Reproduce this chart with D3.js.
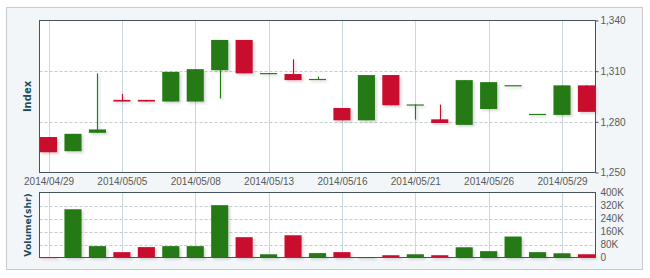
<!DOCTYPE html>
<html>
<head>
<meta charset="utf-8">
<script src="https://cdn.jsdelivr.net/npm/d3@7"></script>
<style>
  body { margin: 0; background: #fff; }
  svg { display: block; font-family: "DejaVu Sans", Verdana, sans-serif; }
  .tick text { fill: #5a5a5a; font-size: 10px; }
</style>
</head>
<body>
<svg id="chart" width="650" height="278"></svg>
<script>
// trading days shown on the chart
const dates = [
  '2014/04/29', '2014/04/30', '2014/05/02', '2014/05/05', '2014/05/06', '2014/05/07',
  '2014/05/08', '2014/05/09', '2014/05/12', '2014/05/13', '2014/05/14', '2014/05/15',
  '2014/05/16', '2014/05/19', '2014/05/20', '2014/05/21', '2014/05/22', '2014/05/23',
  '2014/05/26', '2014/05/27', '2014/05/28', '2014/05/29', '2014/05/30',
];
const opens = [
  1271, 1262.6, 1273.5, 1293, 1293, 1292, 1292, 1310.6, 1328.5, 1308.7, 1308.3, 1305.2,
  1288.2, 1280.9, 1307.7, 1290.1, 1281.5, 1278.2, 1287.6, 1301.5, 1284.5, 1284.1, 1301.6,
];
const highs = [
  1271, 1272.9, 1308.7, 1296.5, 1293, 1309.6, 1311.2, 1328.5, 1328.5, 1308.9, 1317, 1306.8,
  1288.2, 1307.7, 1307.7, 1290.3, 1290.2, 1304.7, 1303.5, 1301.7, 1284.7, 1301.6, 1301.6,
];
const lows = [
  1262, 1262.6, 1273.5, 1292, 1292, 1292, 1292, 1293.8, 1308.7, 1308.7, 1304.7, 1305.2,
  1280.9, 1280.9, 1289.8, 1281.3, 1279.3, 1278.2, 1287.6, 1301.5, 1284.5, 1284.1, 1285.9,
];
const closes = [
  1262, 1272.9, 1275.5, 1292, 1292, 1309.6, 1311.2, 1328.5, 1308.7, 1308.9, 1304.7, 1305.4,
  1280.9, 1307.7, 1289.8, 1290.3, 1279.3, 1304.7, 1303.5, 1301.7, 1284.7, 1301.6, 1285.9,
];
// volume in thousands of shares
const volumes = [
  2, 297, 70, 33, 64, 70, 70, 322, 125, 20, 137, 27,
  33, 2, 14, 20, 14, 63, 39, 129, 33, 26, 20,
];
const priceTicks = [1250, 1280, 1310, 1340];
const volumeTicks = [0, 80, 160, 240, 320, 400];

const up = '#267a17';
const down = '#c8102e';

const svg = d3.select('#chart');

const bounds = {left: 39.5, right: 595.5};
const pricePlot = {top: 20.5, bottom: 172.5};
const volPlot = {top: 192.5, bottom: 257.5};

// outer panel
svg.append('rect')
  .attr('x', 6.5).attr('y', 7.5)
  .attr('width', 636).attr('height', 262)
  .attr('fill', '#f2f6f8')
  .attr('stroke', '#c5cdd1');

const defs = svg.append('defs');
const shadow = defs.append('filter').attr('id', 'shadow')
  .attr('x', '-20%').attr('y', '-20%').attr('width', '160%').attr('height', '160%');
shadow.append('feDropShadow')
  .attr('dx', 2).attr('dy', 2).attr('stdDeviation', 1.2)
  .attr('flood-color', '#000').attr('flood-opacity', 0.15);

const x = d3.scalePoint()
  .domain(dates)
  .range([bounds.left, bounds.right])
  .padding(0.37);
const bodyWidth = x.step() * 0.7;

const y = d3.scaleLinear().domain([1250, 1340]).range([pricePlot.bottom, pricePlot.top]);
const yv = d3.scaleLinear().domain([0, 400]).range([volPlot.bottom, volPlot.top]);

const labelDates = dates.filter((d, i) => i % 3 === 0);

function drawFrame(plot, hLines, scale) {
  svg.append('rect')
    .attr('x', bounds.left).attr('y', plot.top)
    .attr('width', bounds.right - bounds.left)
    .attr('height', plot.bottom - plot.top)
    .attr('fill', '#fff');
  // vertical grid at labelled dates
  svg.append('g').selectAll('line')
    .data(labelDates)
    .join('line')
    .attr('x1', d => Math.round(x(d)) + 0.5)
    .attr('x2', d => Math.round(x(d)) + 0.5)
    .attr('y1', plot.top).attr('y2', plot.bottom)
    .attr('stroke', '#c9d7de');
  // dashed horizontal grid
  svg.append('g').selectAll('line')
    .data(hLines)
    .join('line')
    .attr('x1', bounds.left).attr('x2', bounds.right)
    .attr('y1', d => Math.round(scale(d)) + 0.5)
    .attr('y2', d => Math.round(scale(d)) + 0.5)
    .attr('stroke', '#c4ccd0')
    .attr('stroke-dasharray', '3,2');
}

drawFrame(pricePlot, [1280, 1310], y);
drawFrame(volPlot, [80, 160, 240, 320], yv);

const idx = d3.range(dates.length);
const colorOf = i => closes[i] >= opens[i] ? up : down;

// candles
const candles = svg.append('g').attr('filter', 'url(#shadow)');
candles.selectAll('.wick')
  .data(idx)
  .join('line')
  .attr('class', 'wick')
  .attr('x1', i => Math.round(x(dates[i])) + 0.5)
  .attr('x2', i => Math.round(x(dates[i])) + 0.5)
  .attr('y1', i => y(highs[i]))
  .attr('y2', i => y(lows[i]))
  .attr('stroke', colorOf)
  .attr('stroke-width', 1.2);
candles.selectAll('.body')
  .data(idx)
  .join('rect')
  .attr('class', 'body')
  .attr('x', i => x(dates[i]) - bodyWidth / 2)
  .attr('y', i => y(Math.max(opens[i], closes[i])))
  .attr('width', bodyWidth)
  .attr('height', i => Math.max(1.2, Math.abs(y(opens[i]) - y(closes[i]))))
  .attr('fill', colorOf);

// volume bars
svg.append('g').attr('filter', 'url(#shadow)')
  .selectAll('rect')
  .data(idx)
  .join('rect')
  .attr('x', i => x(dates[i]) - bodyWidth / 2)
  .attr('y', i => yv(volumes[i]))
  .attr('width', bodyWidth)
  .attr('height', i => Math.max(1, yv(0) - yv(volumes[i])))
  .attr('fill', colorOf);

// plot borders
[pricePlot, volPlot].forEach((plot) => {
  svg.append('rect')
    .attr('x', bounds.left).attr('y', plot.top)
    .attr('width', bounds.right - bounds.left)
    .attr('height', plot.bottom - plot.top)
    .attr('fill', 'none')
    .attr('stroke', '#45545b');
});

// axes
const priceAxis = svg.append('g')
  .attr('transform', `translate(${bounds.right},0)`)
  .call(d3.axisRight(y).tickValues(priceTicks).tickSize(3).tickPadding(2)
    .tickFormat(d3.format(',')));
priceAxis.select('.domain').remove();
priceAxis.selectAll('.tick line').attr('stroke', '#45545b');

const volAxis = svg.append('g')
  .attr('transform', `translate(${bounds.right},0)`)
  .call(d3.axisRight(yv).tickValues(volumeTicks).tickSize(0).tickPadding(5)
    .tickFormat(d => d === 0 ? '0' : d + 'K'));
volAxis.select('.domain').remove();

const dateAxis = svg.append('g')
  .attr('transform', `translate(0,${pricePlot.bottom})`)
  .call(d3.axisBottom(x).tickValues(labelDates).tickSize(0).tickPadding(5));
dateAxis.select('.domain').remove();

// axis titles
svg.append('text')
  .attr('transform', `translate(31,${(pricePlot.top + pricePlot.bottom) / 2}) rotate(-90)`)
  .attr('text-anchor', 'middle')
  .attr('font-size', 10).attr('font-weight', 'bold')
  .attr('fill', '#1d4d5c')
  .text('Index');
svg.append('text')
  .attr('transform', `translate(31,${(volPlot.top + volPlot.bottom) / 2}) rotate(-90)`)
  .attr('text-anchor', 'middle')
  .attr('font-size', 9.2).attr('font-weight', 'bold')
  .attr('fill', '#1d4d5c')
  .text('Volume(shr)');
</script>
</body>
</html>
